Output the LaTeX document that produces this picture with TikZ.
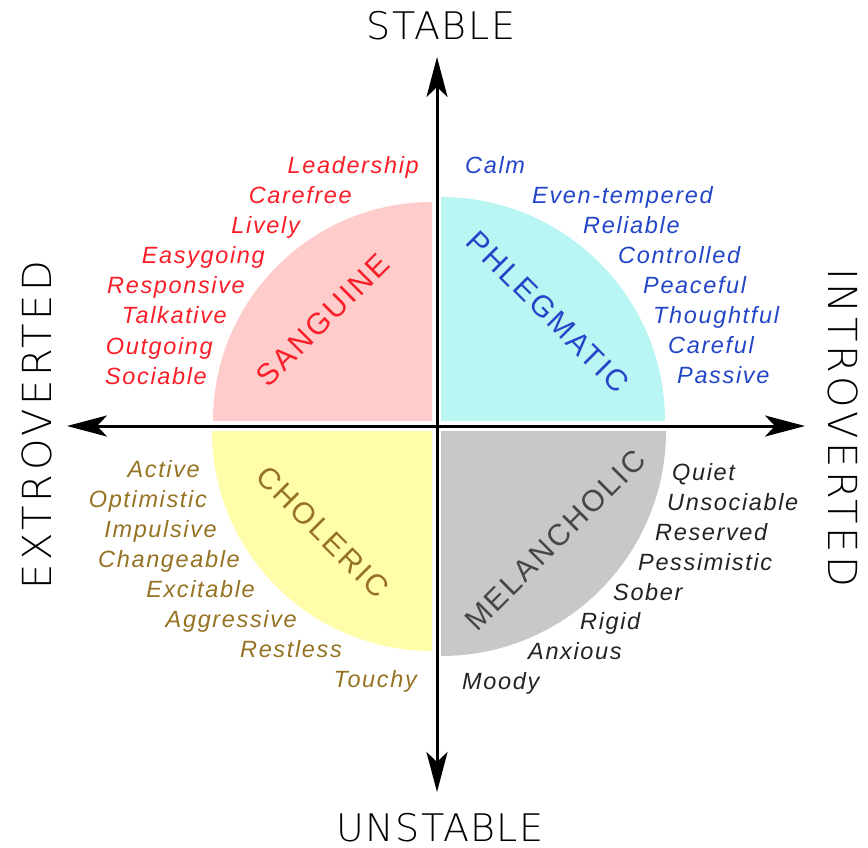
\documentclass[tikz,border=0pt]{standalone}
\usepackage{fontspec}
\setmainfont{Liberation Sans}
\usetikzlibrary{arrows.meta}
\newfontfamily\wordfont[LetterSpace=7]{Liberation Sans}
\newfontfamily\labelfont[LetterSpace=8]{Liberation Sans}
\IfFontExistsTF{DejaVu Sans ExtraLight}
  {\newfontfamily\axisfont[LetterSpace=4]{DejaVu Sans ExtraLight}%
   \newfontfamily\vaxisfont[LetterSpace=9]{DejaVu Sans ExtraLight}}
  {\newfontfamily\axisfont[LetterSpace=4]{Liberation Sans}%
   \newfontfamily\vaxisfont[LetterSpace=9]{Liberation Sans}}
\definecolor{sangred}{RGB}{250,30,40}
\definecolor{phlblue}{RGB}{35,70,200}
\definecolor{cholbrown}{RGB}{150,115,35}
\definecolor{meldark}{RGB}{35,35,35}
\definecolor{mellabel}{RGB}{70,70,70}
\definecolor{pinkq}{RGB}{255,204,204}
\definecolor{cyanq}{RGB}{185,245,243}
\definecolor{yellowq}{RGB}{255,253,170}
\definecolor{grayq}{RGB}{200,200,200}
\tikzset{
  word/.style={inner sep=0pt, font=\wordfont\itshape\fontsize{23.5}{26}\selectfont},
  wsang/.style={word, text=sangred, anchor=base east},
  wphl/.style={word, text=phlblue, anchor=base west},
  wchol/.style={word, text=cholbrown, anchor=base east},
  wmel/.style={word, text=meldark, anchor=base west},
  qlabel/.style={inner sep=0pt, font=\labelfont\fontsize{30}{32}\selectfont},
  axislabel/.style={inner sep=0pt, text=black, font=\axisfont\fontsize{38}{40}\selectfont},
  vaxislabel/.style={inner sep=0pt, text=black, font=\vaxisfont\fontsize{40}{42}\selectfont},
  axisline/.style={line width=3pt, draw=black,
    {Stealth[length=40pt,width=21pt,inset=10pt]}-{Stealth[length=40pt,width=21pt,inset=10pt]}}
}
\begin{document}
\begin{tikzpicture}[x=1pt,y=-1pt]
\useasboundingbox (0,0) rectangle (868,847);
\fill[white] (0,0) rectangle (868,847);
% quadrants
\fill[pinkq] (432,421) -- ++(-219,0) arc[start angle=180,end angle=90,radius=219pt] -- cycle;
\fill[cyanq] (441,421) -- ++(224,0) arc[start angle=0,end angle=90,radius=224pt] -- cycle;
\fill[yellowq] (432,431) -- ++(-220,0) arc[start angle=180,end angle=270,radius=220pt] -- cycle;
\fill[grayq] (441,431) -- ++(225,0) arc[start angle=0,end angle=-90,radius=225pt] -- cycle;
% axes
\coordinate (top) at (437,57);
\coordinate (bot) at (437,792);
\coordinate (lft) at (67,426);
\coordinate (rgt) at (805,426);
\draw[axisline] (bot) -- (top);
\draw[axisline] (lft) -- (rgt);
% axis labels
\node[axislabel] (stable) at (441,26) {STABLE};
\node[axislabel] (unstable) at (440,828) {UNSTABLE};
\node[vaxislabel, rotate=90] (extro) at (37,425) {EXTROVERTED};
\node[vaxislabel, rotate=-90] (intro) at (843,428) {INTROVERTED};
% quadrant labels
\node[qlabel, text=sangred, rotate=45] (sanguine) at (323,320) {SANGUINE};
\node[qlabel, text=phlblue, rotate=-45] (phlegmatic) at (548,312) {PHLEGMATIC};
\node[qlabel, text=cholbrown, rotate=-45] (choleric) at (323,532) {CHOLERIC};
\node[qlabel, text=mellabel, rotate=45] (melancholic) at (555,540) {MELANCHOLIC};
% sanguine words
\node[wsang] (s1) at (419,173) {Leadership};
\node[wsang] (s2) at (352,203) {Carefree};
\node[wsang] (s3) at (300,233) {Lively};
\node[wsang] (s4) at (265,263) {Easygoing};
\node[wsang] (s5) at (245,293) {Responsive};
\node[wsang] (s6) at (227,323) {Talkative};
\node[wsang] (s7) at (213,354) {Outgoing};
\node[wsang] (s8) at (207,384) {Sociable};
% phlegmatic words
\node[wphl] (p1) at (465,173) {Calm};
\node[wphl] (p2) at (532,203) {Even-tempered};
\node[wphl] (p3) at (583,233) {Reliable};
\node[wphl] (p4) at (618,263) {Controlled};
\node[wphl] (p5) at (643,293) {Peaceful};
\node[wphl] (p6) at (653,323) {Thoughtful};
\node[wphl] (p7) at (668,353) {Careful};
\node[wphl] (p8) at (677,383) {Passive};
% choleric words
\node[wchol] (c1) at (200,477) {Active};
\node[wchol] (c2) at (207,507) {Optimistic};
\node[wchol] (c3) at (217,537) {Impulsive};
\node[wchol] (c4) at (240,567) {Changeable};
\node[wchol] (c5) at (255,597) {Excitable};
\node[wchol] (c6) at (297,627) {Aggressive};
\node[wchol] (c7) at (342,657) {Restless};
\node[wchol] (c8) at (417,687) {Touchy};
% melancholic words
\node[wmel] (m1) at (672,480) {Quiet};
\node[wmel] (m2) at (667,510) {Unsociable};
\node[wmel] (m3) at (655,540) {Reserved};
\node[wmel] (m4) at (638,570) {Pessimistic};
\node[wmel] (m5) at (613,600) {Sober};
\node[wmel] (m6) at (580,629) {Rigid};
\node[wmel] (m7) at (528,659) {Anxious};
\node[wmel] (m8) at (462,689) {Moody};
\end{tikzpicture}
\end{document}
